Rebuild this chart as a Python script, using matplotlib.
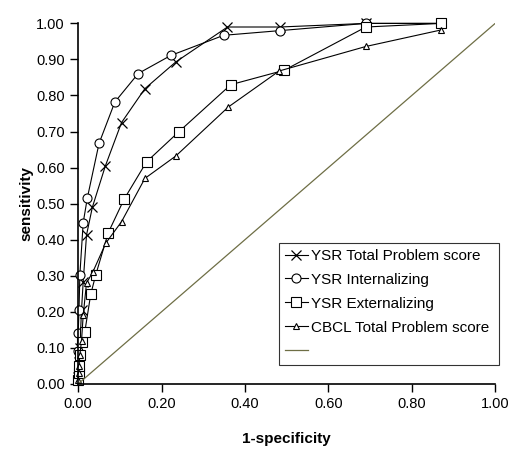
import matplotlib
matplotlib.use("Agg")
import matplotlib.pyplot as plt

plt.rcParams['font.family'] = ['Liberation Sans', 'DejaVu Sans']

# ROC points (1-specificity, sensitivity)
ysr_total_fpr = [0, 0.002, 0.004, 0.008, 0.012, 0.020, 0.034, 0.065, 0.104, 0.16, 0.234, 0.358, 0.484, 0.69, 0.871]
ysr_total_tpr = [0.02, 0.06, 0.10, 0.205, 0.283, 0.413, 0.49, 0.604, 0.725, 0.819, 0.893, 0.99, 0.99, 1.0, 1.0]

ysr_int_fpr = [0, 0, 0, 0.002, 0.004, 0.012, 0.022, 0.05, 0.088, 0.144, 0.222, 0.349, 0.484, 0.69, 0.871]
ysr_int_tpr = [0.02, 0.09, 0.14, 0.205, 0.302, 0.447, 0.516, 0.667, 0.782, 0.861, 0.911, 0.967, 0.98, 1.0, 1.0]

ysr_ext_fpr = [0, 0.001, 0.002, 0.004, 0.008, 0.016, 0.03, 0.042, 0.072, 0.11, 0.164, 0.241, 0.366, 0.494, 0.69, 0.871]
ysr_ext_tpr = [0.01, 0.03, 0.05, 0.08, 0.117, 0.145, 0.248, 0.302, 0.419, 0.512, 0.616, 0.699, 0.83, 0.87, 0.99, 1.0]

cbcl_fpr = [0, 0.001, 0.002, 0.004, 0.008, 0.012, 0.02, 0.035, 0.066, 0.104, 0.16, 0.234, 0.36, 0.482, 0.69, 0.871]
cbcl_tpr = [0.01, 0.03, 0.05, 0.08, 0.12, 0.19, 0.28, 0.31, 0.39, 0.45, 0.57, 0.632, 0.768, 0.868, 0.936, 0.982]

labels = ['YSR Total Problem score', 'YSR Internalizing', 'YSR Externalizing',
          'CBCL Total Problem score', ' ']
ticks = [0, 0.2, 0.4, 0.6, 0.8, 1.0]
yticks = [0, 0.1, 0.2, 0.3, 0.4, 0.5, 0.6, 0.7, 0.8, 0.9, 1.0]

fig = plt.figure(figsize=(5.11, 4.5), dpi=100)
ax = fig.add_axes([0.153, 0.147, 0.816, 0.801])

lw = 0.8
h1, = ax.plot(ysr_total_fpr, ysr_total_tpr, color='black', lw=lw, marker='x',
              ms=6.5, mew=0.9, clip_on=False)
h2, = ax.plot(ysr_int_fpr, ysr_int_tpr, color='black', lw=lw, marker='o',
              ms=6.5, mfc='white', mew=0.8, clip_on=False)
h3, = ax.plot(ysr_ext_fpr, ysr_ext_tpr, color='black', lw=lw, marker='s',
              ms=6.5, mfc='white', mew=0.8, clip_on=False)
h4, = ax.plot(cbcl_fpr, cbcl_tpr, color='black', lw=lw, marker='^',
              ms=4, mfc='white', mew=0.8, clip_on=False)
h5, = ax.plot([0, 1], [0, 1], color='#6e6e45', lw=0.9)

ax.set_xlim(0, 1)
ax.set_ylim(0, 1)
ax.set_xticks(ticks)
ax.set_xticklabels([f'{t:.2f}' for t in ticks])
ax.set_yticks(yticks)
ax.set_yticklabels([f'{t:.2f}' for t in yticks])
ax.tick_params(direction='out', length=6, width=1, labelsize=10.5, color='black')
for s in ['top', 'right']:
    ax.spines[s].set_visible(False)
for s in ['left', 'bottom']:
    ax.spines[s].set_linewidth(1.2)

ax.set_xlabel('1-specificity', fontsize=11, fontweight='bold', labelpad=15)
ax.set_ylabel('sensitivity', fontsize=11, fontweight='bold', labelpad=2)

leg = ax.legend([h1, h2, h3, h4, h5], labels, loc='lower left',
                bbox_to_anchor=(0.481, 0.053, 0.529, 0.335), mode='expand',
                fontsize=11, frameon=True, fancybox=False, handlelength=1.5,
                handletextpad=0.2, borderpad=0.4, labelspacing=0.65,
                borderaxespad=0)
leg.get_frame().set_edgecolor('black')
leg.get_frame().set_linewidth(0.8)

fig.savefig('out.png', dpi=100)
